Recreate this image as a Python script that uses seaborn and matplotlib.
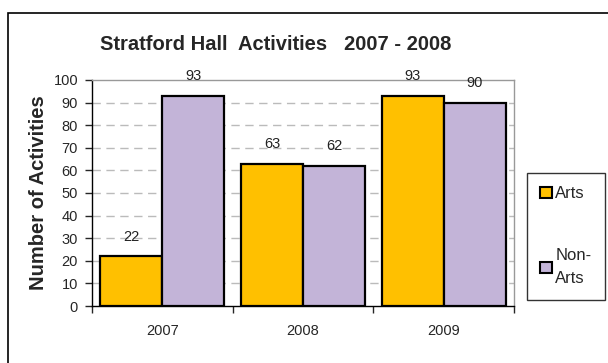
import matplotlib
matplotlib.use('Agg')
import matplotlib.pyplot as plt
import seaborn as sns
import pandas as pd
from matplotlib.patches import Rectangle, Patch

years = ['2007', '2008', '2009']
arts = [22, 63, 93]
non_arts = [93, 62, 90]
series = ['Arts', 'Non-Arts']
colors = ['#FFC000', '#C3B4D8']

df = pd.DataFrame({
    'year': years * 2,
    'value': arts + non_arts,
    'kind': ['Arts'] * 3 + ['Non-Arts'] * 3,
})

sns.set_style('white')
plt.rcParams['font.family'] = ['Liberation Sans', 'DejaVu Sans']

fig = plt.figure(figsize=(6.08, 3.63), dpi=100)
ax = fig.add_axes([92 / 608, 1 - 306 / 363, (514 - 92) / 608, (306 - 80) / 363])

sns.barplot(data=df, x='year', y='value', hue='kind', palette=colors,
            saturation=1, width=0.88, gap=0, edgecolor='black', linewidth=1.6,
            legend=False, ax=ax, zorder=3)

for c in ax.containers:
    ax.bar_label(c, padding=9, fontsize=10.5, color='#222222')

ax.set_ylim(0, 100)
ax.set_xlim(-0.5, 2.5)
ax.set_yticks(range(0, 101, 10))
ax.set_xticks([-0.5, 0.5, 1.5, 2.5])
ax.set_xticklabels([])
ax.set_xticks([0, 1, 2], minor=True)
ax.set_xticklabels(years, minor=True)
ax.tick_params(axis='x', which='minor', length=0, pad=13, labelsize=10.5)
ax.tick_params(axis='x', which='major', length=5, direction='out', bottom=True, width=1)
ax.tick_params(axis='y', length=5, direction='out', left=True, labelsize=10.5, width=1, pad=5)
ax.set_xlabel('')
ax.set_ylabel('Number of Activities', fontsize=14.5, fontweight='bold', labelpad=4)

for y in range(10, 100, 10):
    ax.axhline(y, color='#BBBBBB', linestyle=(0, (6, 4)), linewidth=1, zorder=1)

ax.spines['left'].set_color('black')
ax.spines['bottom'].set_color('black')
ax.spines['top'].set_color('#999999')
ax.spines['right'].set_color('#999999')
for s in ax.spines.values():
    s.set_linewidth(1)

fig.text(276 / 608, 1 - 44 / 363, 'Stratford Hall  Activities   2007 - 2008',
         ha='center', va='center', fontsize=14.5, fontweight='bold')

# outer chart border
fig.patches.append(Rectangle((8 / 608, -0.1), 1.1, 1 - 13 / 363 + 0.1,
                             transform=fig.transFigure, fill=False,
                             edgecolor='black', linewidth=1.2))

handles = [Patch(facecolor=colors[0], edgecolor='black', linewidth=1.5),
           Patch(facecolor=colors[1], edgecolor='black', linewidth=1.5)]
leg = fig.legend(handles, ['Arts', 'Non-\nArts'], loc='upper left',
                 bbox_to_anchor=(527 / 608, 1 - 173 / 363), fontsize=12,
                 frameon=True, fancybox=False, edgecolor='black',
                 handlelength=0.7, handleheight=0.7, handletextpad=0.2,
                 labelspacing=2.8, borderpad=0.8, borderaxespad=0)
leg.get_frame().set_linewidth(1)
leg.get_texts()[1].set_linespacing(1.7)

fig.savefig('out.png', dpi=100)
